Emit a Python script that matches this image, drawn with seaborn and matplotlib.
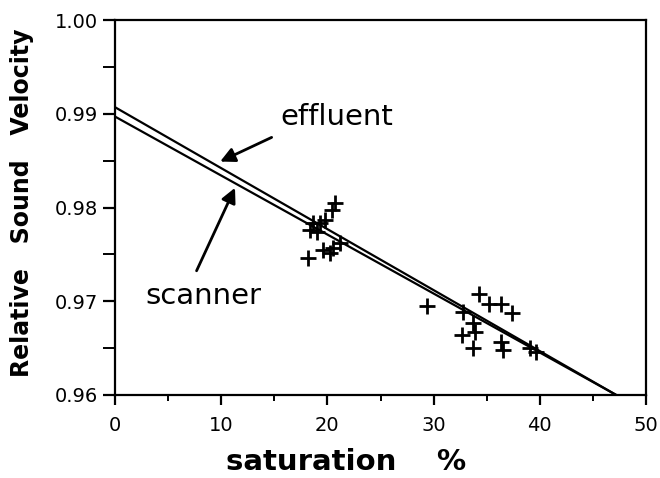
import matplotlib
matplotlib.use("Agg")
import matplotlib.pyplot as plt
import seaborn as sns
import pandas as pd
from matplotlib.ticker import MultipleLocator

# ---- data ----
sat = [20.7, 20.4, 18.6, 19.3, 19.8, 18.4, 19.0, 21.2, 19.6, 20.5, 20.2, 18.2,
       29.4, 34.3, 35.2, 36.3, 37.4, 32.8, 33.7, 33.9, 32.7, 33.7, 36.3, 36.5,
       39.1, 39.6]
vel = [0.9805, 0.9797, 0.9784, 0.9784, 0.9787, 0.9776, 0.9774, 0.9762, 0.9755,
       0.9757, 0.9752, 0.9746,
       0.9695, 0.9708, 0.9697, 0.9697, 0.9688, 0.9689, 0.9677, 0.9667, 0.9664,
       0.9650, 0.9657, 0.9648, 0.9650, 0.9646]

fit_x = [0.0, 47.2]
effluent_y = [0.9907, 0.9600]
scanner_y = [0.9897, 0.9600]

x_ticks = [0, 10, 20, 30, 40, 50]
y_ticks = [0.96, 0.97, 0.98, 0.99, 1.00]
y_tick_labels = ["0.96", "0.97", "0.98", "0.99", "1.00"]

sns.set_style("ticks")
plt.rcParams['font.family'] = ['DejaVu Sans']
plt.rcParams['text.color'] = 'black'
plt.rcParams['axes.labelcolor'] = 'black'
plt.rcParams['xtick.color'] = 'black'
plt.rcParams['ytick.color'] = 'black'

fig = plt.figure(figsize=(6.6, 4.78), dpi=100)
ax = fig.add_axes([115/660, 83/478, 531/660, 375/478])

pts = pd.DataFrame({"sat": sat, "vel": vel})
lines = pd.DataFrame({"x": fit_x * 2,
                      "y": effluent_y + scanner_y,
                      "kind": ["effluent"] * 2 + ["scanner"] * 2})

sns.lineplot(data=lines, x="x", y="y", units="kind", estimator=None,
             color="black", lw=1.6, ax=ax)
sns.scatterplot(data=pts, x="sat", y="vel", marker="+", s=130, color="black",
                linewidth=2.0, ax=ax, zorder=3)

ax.set_xlim(0, 50)
ax.set_ylim(0.96, 1.00)
ax.set_xticks(x_ticks)
ax.set_xticklabels([str(v) for v in x_ticks])
ax.set_yticks(y_ticks)
ax.set_yticklabels(y_tick_labels)
ax.xaxis.set_minor_locator(MultipleLocator(5))
ax.yaxis.set_minor_locator(MultipleLocator(0.005))

for s in ax.spines.values():
    s.set_visible(True)
    s.set_linewidth(1.6)
    s.set_color("black")

ax.tick_params(axis="x", which="major", direction="out", length=7, width=1.6,
               pad=8, labelsize=14, top=False, colors="black")
ax.tick_params(axis="x", which="minor", direction="out", length=4, width=1.4,
               top=False, colors="black")
ax.tick_params(axis="y", which="major", direction="out", length=9, width=1.6,
               pad=3, labelsize=14, right=False, colors="black")
ax.tick_params(axis="y", which="minor", direction="out", length=9, width=1.4,
               right=False, colors="black")

ax.set_xlabel("saturation    %", fontsize=21, fontweight="bold", va="center",
              color="black")
ax.xaxis.set_label_coords(0.435, -0.179)
ax.set_ylabel("Relative   Sound   Velocity", fontsize=17, fontweight="bold",
              va="center", color="black")
ax.yaxis.set_label_coords(-0.175, 0.513)

ax.annotate("effluent", xy=(9.9, 0.9849), xytext=(20.9, 0.9897),
            fontsize=21, ha="center", va="center", color="black",
            arrowprops=dict(arrowstyle="-|>", lw=2, color="black",
                            mutation_scale=22, shrinkA=6, shrinkB=0,
                            relpos=(0.05, 0.0)))
ax.annotate("scanner", xy=(11.3, 0.9821), xytext=(8.3, 0.9706),
            fontsize=21, ha="center", va="center", color="black",
            arrowprops=dict(arrowstyle="-|>", lw=2, color="black",
                            mutation_scale=22, shrinkA=6, shrinkB=0,
                            relpos=(0.4, 1.0)))

fig.savefig("out.png", dpi=100)
